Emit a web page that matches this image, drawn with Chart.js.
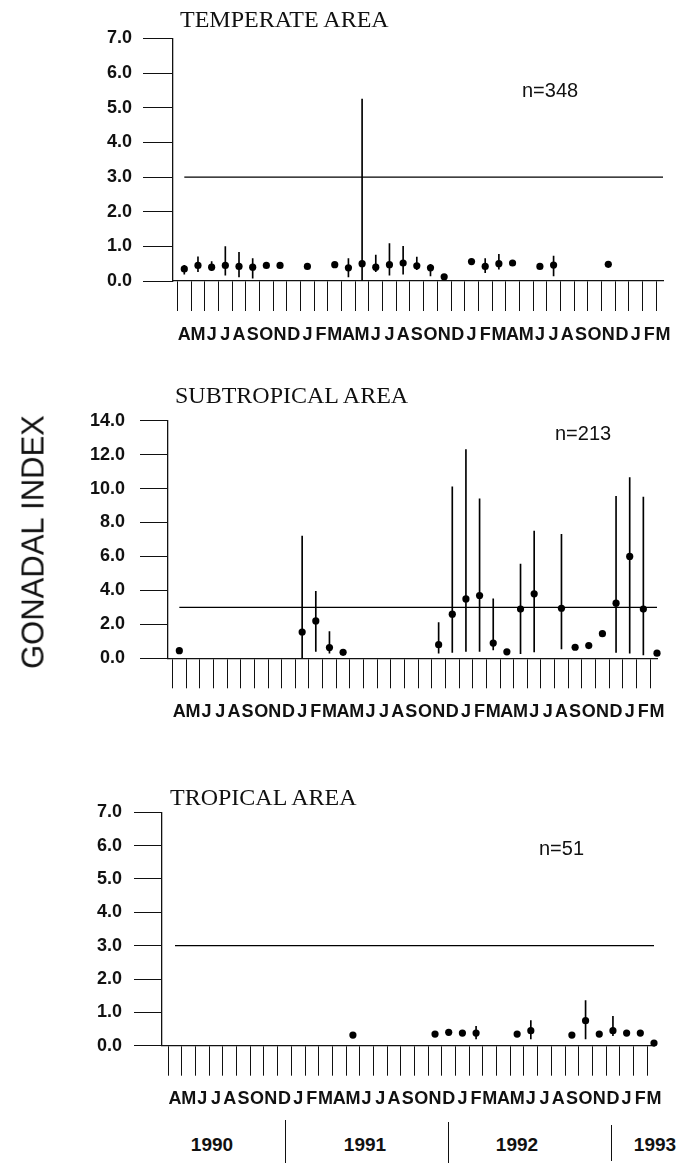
<!DOCTYPE html>
<html>
<head>
<meta charset="utf-8">
<script src="https://cdn.jsdelivr.net/npm/chart.js@4.4.1/dist/chart.umd.min.js"></script>
<style>
  body { margin: 0; background: #fff; }
  #page { position: relative; width: 684px; height: 1163px; overflow: hidden;
          font-family: "Liberation Sans", Arial, sans-serif; color: #111; }
  canvas { position: absolute; left: 0; }
  .title { position: absolute; font-family: "Liberation Serif", "Times New Roman", serif;
           font-size: 24px; line-height: 1; white-space: nowrap; }
  .n { position: absolute; font-size: 20px; line-height: 1; white-space: nowrap; }
  .year { position: absolute; font-size: 19px; font-weight: bold; line-height: 1;
          transform: translateX(-50%); }
  .sep { position: absolute; width: 1px; background: #111; }
  #ylabel { position: absolute; left: 33px; top: 542px; font-size: 31px; line-height: 1;
            white-space: nowrap; transform: translate(-50%, -50%) rotate(-90deg); }
</style>
</head>
<body>
<div id="page">
  <canvas id="c1" width="684" height="350" style="top:0px"></canvas>
  <canvas id="c2" width="684" height="350" style="top:370px"></canvas>
  <canvas id="c3" width="684" height="350" style="top:760px"></canvas>

  <div class="title" style="left:180px;top:7px">TEMPERATE AREA</div>
  <div class="title" style="left:175px;top:383px">SUBTROPICAL AREA</div>
  <div class="title" style="left:170px;top:785px">TROPICAL AREA</div>

  <div class="n" style="left:522px;top:80px">n=348</div>
  <div class="n" style="left:555px;top:423px">n=213</div>
  <div class="n" style="left:539px;top:838px">n=51</div>

  <div id="ylabel">GONADAL INDEX</div>

  <div class="year" style="left:212px;top:1135px">1990</div>
  <div class="year" style="left:365px;top:1135px">1991</div>
  <div class="year" style="left:517px;top:1135px">1992</div>
  <div class="year" style="left:655px;top:1135px">1993</div>
  <div class="sep" style="left:285px;top:1120px;height:43px"></div>
  <div class="sep" style="left:448px;top:1122px;height:41px"></div>
  <div class="sep" style="left:611px;top:1125px;height:36px"></div>
</div>

<script>
// April 1990 .. March 1993
const months = ['A','M','J','J','A','S','O','N','D',
  'J','F','M','A','M','J','J','A','S','O','N','D',
  'J','F','M','A','M','J','J','A','S','O','N','D',
  'J','F','M'];

const refLevel = 3.0;

// temperate area
const temperateMean = [0.35, 0.45, 0.4, 0.45, 0.42, 0.4, 0.45, 0.45, null,
  0.42, null, 0.47, 0.38, 0.5, 0.4, 0.47, 0.52, 0.44, 0.38, 0.12, null,
  0.56, 0.42, 0.5, 0.52, null, 0.42, 0.46, null, null, null, 0.48, null,
  null, null, null];
const temperateLow = [0.2, 0.27, 0.3, 0.17, 0.12, 0.08, null, null, null,
  null, null, null, 0.12, 0.0, 0.27, 0.17, 0.2, 0.33, 0.15, null, null,
  null, 0.24, 0.34, null, null, null, 0.15, null, null, null, null, null,
  null, null, null];
const temperateHigh = [0.45, 0.7, 0.56, 0.99, 0.83, 0.65, null, null, null,
  null, null, null, 0.65, 5.25, 0.75, 1.08, 1.0, 0.69, 0.48, null, null,
  null, 0.65, 0.77, null, null, null, 0.72, null, null, null, null, null,
  null, null, null];

// subtropical area
const subtropicalMean = [0.45, null, null, null, null, null, null, null, null,
  1.55, 2.2, 0.63, 0.35, null, null, null, null, null, null, 0.8, 2.6,
  3.5, 3.7, 0.9, 0.38, 2.9, 3.8, null, 2.95, 0.65, 0.75, 1.45, 3.25,
  6.0, 2.9, 0.3];
const subtropicalLow = [null, null, null, null, null, null, null, null, null,
  0.0, 0.4, 0.3, null, null, null, null, null, null, null, 0.3, 0.35,
  0.4, 0.4, 0.5, null, 0.27, 0.37, null, 0.55, null, null, null, 0.35,
  0.3, 0.2, null];
const subtropicalHigh = [null, null, null, null, null, null, null, null, null,
  7.2, 3.95, 1.57, null, null, null, null, null, null, null, 2.1, 10.1,
  12.3, 9.4, 3.5, null, 5.55, 7.5, null, 7.3, null, null, null, 9.55,
  10.65, 9.5, null];

// tropical area
const tropicalMean = [null, null, null, null, null, null, null, null, null,
  null, null, null, null, 0.32, null, null, null, null, null, 0.35, 0.4,
  0.38, 0.38, null, null, 0.35, 0.45, null, null, 0.32, 0.75, 0.35, 0.45,
  0.38, 0.38, 0.08];
const tropicalLow = [null, null, null, null, null, null, null, null, null,
  null, null, null, null, null, null, null, null, null, null, null, null,
  null, 0.2, null, null, null, 0.2, null, null, null, 0.2, null, 0.3,
  null, null, null];
const tropicalHigh = [null, null, null, null, null, null, null, null, null,
  null, null, null, null, null, null, null, null, null, null, null, null,
  null, 0.58, null, null, null, 0.75, null, null, null, 1.35, null, 0.88,
  null, null, null];

const FONT = '"Liberation Sans", Arial, sans-serif';
const INK = '#111';

const minorTicks = {
  id: 'minorTicks',
  afterDraw(chart, args, opts) {
    if (!opts.length) return;
    const y = chart.scales.y;
    const ctx = chart.ctx;
    ctx.save();
    ctx.strokeStyle = INK;
    ctx.lineWidth = 1;
    y.ticks.forEach(t => {
      if (t.value % opts.every === 0) return;
      const py = Math.round(y.getPixelForValue(t.value)) + 0.5;
      ctx.beginPath();
      ctx.moveTo(y.right - opts.length, py);
      ctx.lineTo(y.right, py);
      ctx.stroke();
    });
    ctx.restore();
  }
};

function makePanel(id, mean, low, high, p) {
  const points = [];
  const bars = [];
  mean.forEach((v, i) => { if (v !== null) points.push({ x: i, y: v }); });
  low.forEach((v, i) => { if (v !== null) bars.push({ x: i, y: [v, high[i]] }); });
  const last = months.length - 1;

  new Chart(document.getElementById(id), {
    type: 'scatter',
    data: {
      datasets: [
        { type: 'scatter', data: points, pointRadius: 3.6, pointHoverRadius: 3.6,
          backgroundColor: '#000', borderWidth: 0, clip: false, order: 0 },
        { type: 'bar', data: bars, barThickness: 1, backgroundColor: '#000',
          borderWidth: 0, order: 1 },
        { type: 'line', data: [{ x: 0, y: refLevel }, { x: last, y: refLevel }],
          borderColor: '#000', borderWidth: 1.3, pointRadius: 0, order: 2 }
      ]
    },
    options: {
      responsive: false,
      animation: false,
      events: [],
      layout: { padding: { top: p.top, right: p.right, left: 0, bottom: 0 } },
      plugins: {
        legend: { display: false },
        tooltip: { enabled: false },
        minorTicks: { length: p.minorLen, every: p.labelStep }
      },
      scales: {
        x: {
          type: 'linear', min: p.xMin, max: last, offset: false,
          afterBuildTicks: axis => { axis.ticks = months.map((m, i) => ({ value: i })); },
          afterFit: s => { s.height = p.xHeight; },
          ticks: { autoSkip: false, maxRotation: 0, minRotation: 0, padding: 13, color: INK,
                   font: { family: FONT, size: 18, weight: 'bold' },
                   callback: v => months[v] },
          grid: { drawOnChartArea: false, drawTicks: true, tickLength: 30, color: INK, lineWidth: 1 },
          border: { display: true, color: INK, width: 1.3 }
        },
        y: {
          type: 'linear', min: 0, max: p.yMax,
          afterFit: s => { s.width = p.left; },
          ticks: { stepSize: 1, padding: p.yPad, color: INK,
                   font: { family: FONT, size: 18, weight: 'bold' },
                   callback: v => (v % p.labelStep === 0 ? v.toFixed(1) : '') },
          grid: { drawOnChartArea: false, drawTicks: true, tickLength: p.tickLen, lineWidth: 1,
                  color: c => (c.tick && c.tick.value % p.labelStep !== 0 ? 'rgba(0,0,0,0)' : INK) },
          border: { display: true, color: INK, width: 1.3 }
        }
      }
    },
    plugins: [minorTicks]
  });
}

makePanel('c1', temperateMean, temperateLow, temperateHigh,
  { top: 38.5, left: 173, right: 21, xHeight: 69, xMin: -0.826, yMax: 7, labelStep: 1,
    tickLen: 30, yPad: 11, minorLen: 0 });
makePanel('c2', subtropicalMean, subtropicalLow, subtropicalHigh,
  { top: 50.7, left: 168, right: 27, xHeight: 61.7, xMin: -0.83, yMax: 14, labelStep: 2,
    tickLen: 28, yPad: 15, minorLen: 13 });
makePanel('c3', tropicalMean, tropicalLow, tropicalHigh,
  { top: 52.3, left: 162, right: 30, xHeight: 64.3, xMin: -0.95, yMax: 7, labelStep: 1,
    tickLen: 28, yPad: 12, minorLen: 0 });
</script>
</body>
</html>
